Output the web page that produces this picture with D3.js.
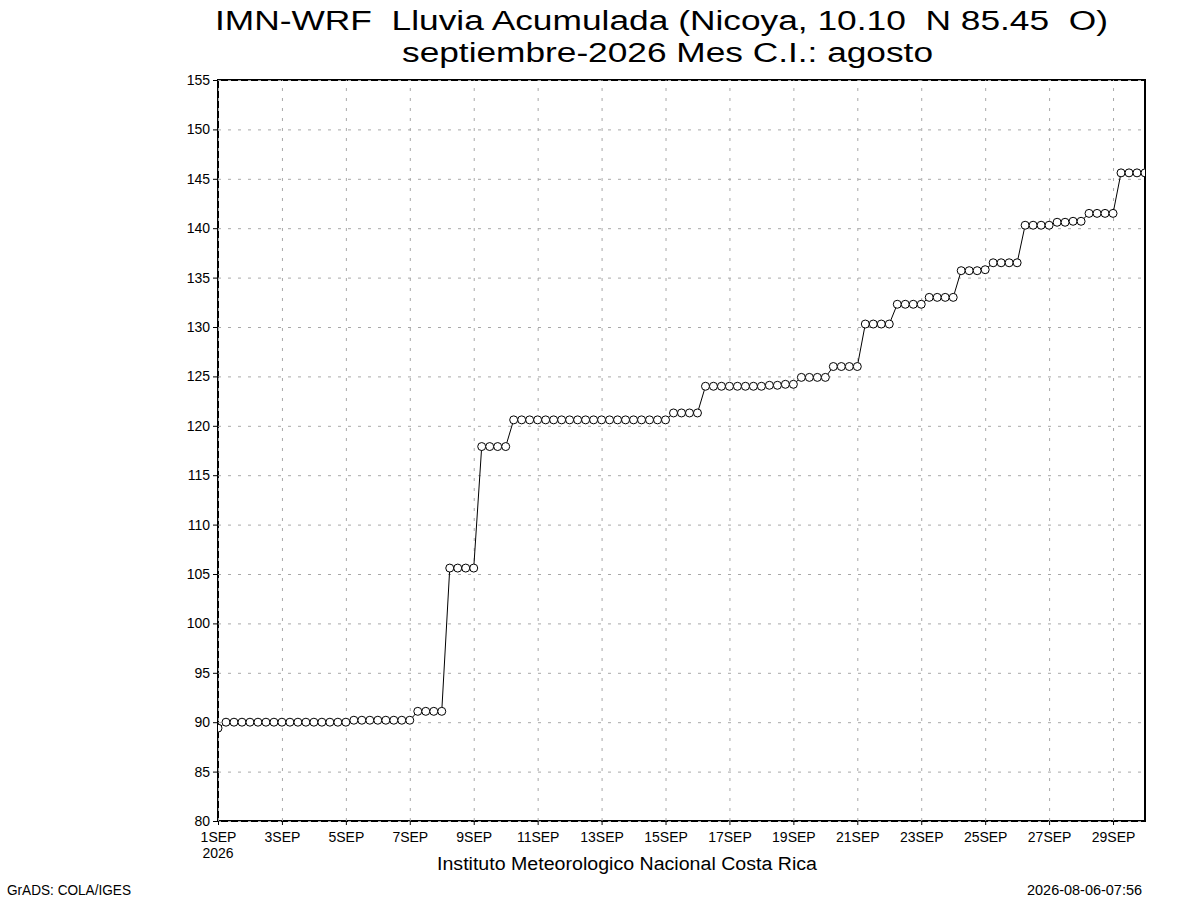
<!DOCTYPE html>
<html lang="es">
<head>
    <meta charset="UTF-8">
    <title>IMN-WRF Lluvia Acumulada Nicoya</title>
    <script src="https://d3js.org/d3.v7.min.js"></script>
    <style>
        body {
            margin: 0;
            background: #fff;
        }
        text {
            font-family: 'Liberation Sans', 'DejaVu Sans', sans-serif;
            fill: #000;
            white-space: pre;
        }
        .grid line {
            stroke: #a8a8a8;
            stroke-width: 1px;
            stroke-dasharray: 3,7;
        }
        .grid path {
            display: none;
        }
        .axis path {
            display: none;
        }
        .axis line {
            stroke: #000;
        }
    </style>
</head>
<body>
    <svg id="chart"></svg>

    <script>
        // Datos: lluvia acumulada (mm) cada 6 horas, 1SEP 00Z hasta 30SEP 00Z
        const startTime = Date.UTC(2026, 8, 1);
        const stepHours = 6;
        const rainfall = [
            89.4,
            90.0, 90.0, 90.0, 90.0, 90.0, 90.0, 90.0, 90.0,
            90.0, 90.0, 90.0, 90.0, 90.0, 90.0, 90.0, 90.0,
            90.2, 90.2, 90.2, 90.2, 90.2, 90.2, 90.2, 90.2,
            91.1, 91.1, 91.1, 91.1,
            105.6, 105.6, 105.6, 105.6,
            117.9, 117.9, 117.9, 117.9,
            120.6, 120.6, 120.6, 120.6, 120.6, 120.6, 120.6, 120.6, 120.6, 120.6,
            120.6, 120.6, 120.6, 120.6, 120.6, 120.6, 120.6, 120.6, 120.6, 120.6,
            121.3, 121.3, 121.3, 121.3,
            124.0, 124.0, 124.0, 124.0, 124.0, 124.0, 124.0, 124.0,
            124.1, 124.1, 124.2, 124.2,
            124.9, 124.9, 124.9, 124.9,
            126.0, 126.0, 126.0, 126.0,
            130.3, 130.3, 130.3, 130.3,
            132.3, 132.3, 132.3, 132.3,
            133.0, 133.0, 133.0, 133.0,
            135.7, 135.7, 135.7, 135.8,
            136.5, 136.5, 136.5, 136.5,
            140.3, 140.3, 140.3, 140.3,
            140.6, 140.6, 140.7, 140.7,
            141.5, 141.5, 141.5, 141.5,
            145.6, 145.6, 145.6, 145.6
        ];

        // Ejes
        const yTickValues = [80, 85, 90, 95, 100, 105, 110, 115, 120, 125, 130, 135, 140, 145, 150, 155];
        const xTickDays = [1, 3, 5, 7, 9, 11, 13, 15, 17, 19, 21, 23, 25, 27, 29];
        const xTickLabels = ["1SEP", "3SEP", "5SEP", "7SEP", "9SEP", "11SEP", "13SEP", "15SEP",
                             "17SEP", "19SEP", "21SEP", "23SEP", "25SEP", "27SEP", "29SEP"];
        const yearLabel = "2026";

        const titleLines = [
            "IMN-WRF  Lluvia Acumulada (Nicoya, 10.10  N 85.45  O)",
            "septiembre-2026 Mes C.I.: agosto"
        ];
        const footerText = "Instituto Meteorologico Nacional Costa Rica";
        const leftStamp = "GrADS: COLA/IGES";
        const rightStamp = "2026-08-06-07:56";

        // Configuración
        const width = 1200, height = 900;
        const plot = { left: 218, right: 1145, top: 80, bottom: 821 };

        const svg = d3.select("#chart")
            .attr("width", width)
            .attr("height", height);

        const points = rainfall.map((v, i) => ({
            t: new Date(startTime + i * stepHours * 3600 * 1000),
            v: v
        }));

        const x = d3.scaleUtc()
            .domain([new Date(Date.UTC(2026, 8, 1)), new Date(Date.UTC(2026, 8, 30))])
            .range([plot.left, plot.right]);

        const y = d3.scaleLinear()
            .domain([80, 155])
            .range([plot.bottom, plot.top]);

        const xTickDates = xTickDays.map(d => new Date(Date.UTC(2026, 8, d)));

        svg.append("defs").append("clipPath")
            .attr("id", "plotClip")
            .append("rect")
            .attr("x", plot.left)
            .attr("y", plot.top)
            .attr("width", plot.right - plot.left)
            .attr("height", plot.bottom - plot.top);

        // Marco
        svg.append("rect")
            .attr("x", plot.left)
            .attr("y", plot.top)
            .attr("width", plot.right - plot.left)
            .attr("height", plot.bottom - plot.top)
            .attr("fill", "none")
            .attr("stroke", "#000")
            .attr("stroke-width", 2);

        // Rejilla punteada
        svg.append("g")
            .attr("class", "grid")
            .attr("transform", `translate(${plot.left},0)`)
            .call(d3.axisLeft(y).tickValues(yTickValues).tickSize(-(plot.right - plot.left)).tickFormat(""));

        svg.append("g")
            .attr("class", "grid")
            .attr("transform", `translate(0,${plot.bottom})`)
            .call(d3.axisBottom(x).tickValues(xTickDates).tickSize(-(plot.bottom - plot.top)).tickFormat(""));

        // Eje Y
        const yAxis = svg.append("g")
            .attr("class", "axis")
            .attr("transform", `translate(${plot.left},0)`)
            .call(d3.axisLeft(y).tickValues(yTickValues).tickSize(5).tickPadding(3).tickFormat(d3.format("d")));
        yAxis.selectAll("text")
            .attr("font-size", "14px")
            .attr("font-family", "'Liberation Sans', sans-serif");

        // Eje X
        const xAxis = svg.append("g")
            .attr("class", "axis")
            .attr("transform", `translate(0,${plot.bottom})`)
            .call(d3.axisBottom(x).tickValues(xTickDates).tickSize(4).tickPadding(7)
                .tickFormat((d, i) => xTickLabels[i]));
        xAxis.selectAll("text")
            .attr("font-size", "14px")
            .attr("font-family", "'Liberation Sans', sans-serif");

        svg.append("text")
            .attr("x", x(xTickDates[0]))
            .attr("y", 858)
            .attr("text-anchor", "middle")
            .attr("font-size", "14px")
            .text(yearLabel);

        // Línea y marcadores
        const line = d3.line()
            .x(d => x(d.t))
            .y(d => y(d.v));

        const series = svg.append("g").attr("clip-path", "url(#plotClip)");

        series.append("path")
            .datum(points)
            .attr("fill", "none")
            .attr("stroke", "#000")
            .attr("stroke-width", 1)
            .attr("d", line);

        series.selectAll("circle")
            .data(points)
            .join("circle")
            .attr("cx", d => x(d.t))
            .attr("cy", d => y(d.v))
            .attr("r", 4)
            .attr("fill", "#fff")
            .attr("stroke", "#000")
            .attr("stroke-width", 1);

        // Títulos
        svg.append("text")
            .attr("x", 215)
            .attr("y", 30)
            .attr("font-size", "27px")
            .attr("textLength", 893)
            .attr("lengthAdjust", "spacingAndGlyphs")
            .text(titleLines[0]);

        svg.append("text")
            .attr("x", 402)
            .attr("y", 62)
            .attr("font-size", "27px")
            .attr("textLength", 531)
            .attr("lengthAdjust", "spacingAndGlyphs")
            .text(titleLines[1]);

        // Pie
        svg.append("text")
            .attr("x", 437)
            .attr("y", 870)
            .attr("font-size", "18px")
            .attr("textLength", 380)
            .attr("lengthAdjust", "spacingAndGlyphs")
            .text(footerText);

        svg.append("text")
            .attr("x", 7)
            .attr("y", 895)
            .attr("font-size", "14px")
            .attr("textLength", 124)
            .attr("lengthAdjust", "spacingAndGlyphs")
            .text(leftStamp);

        svg.append("text")
            .attr("x", 1027)
            .attr("y", 895)
            .attr("font-size", "14px")
            .attr("textLength", 115)
            .attr("lengthAdjust", "spacingAndGlyphs")
            .text(rightStamp);
    </script>
</body>
</html>
